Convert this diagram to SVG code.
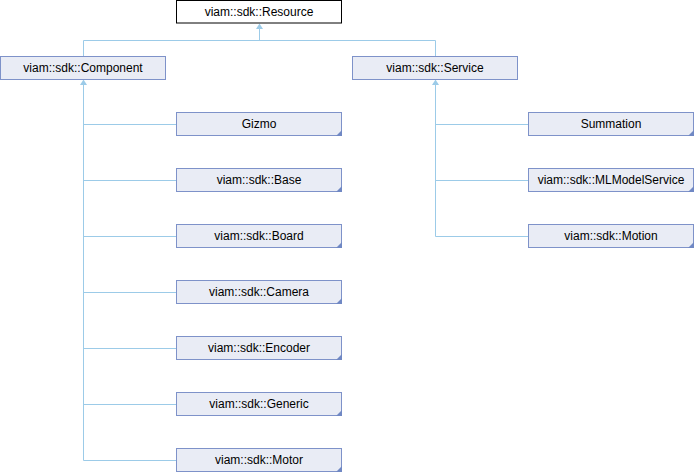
<svg xmlns="http://www.w3.org/2000/svg" width="694" height="472" viewBox="0 0 694 472">
<defs>
<style>
.n rect{fill:#e9ecf5;stroke:#7e92c9;stroke-width:1}
.n path{fill:#7088c4}
.r rect{fill:#ffffff;stroke:#000000;stroke-width:1}
text{font-family:"Liberation Sans",Arial,sans-serif;font-size:12px;fill:#000;text-anchor:middle}
.c line,.c polyline{stroke:#9ccbe8;stroke-width:1;fill:none}
.c path{fill:#9ccbe8;stroke:none}
</style>
</defs>
<rect width="694" height="472" fill="#ffffff"/>
<g class="c" id="connectors">
<line x1="259.5" y1="28" x2="259.5" y2="40.5"/>
<polyline points="83.5,56 83.5,40.5 435.5,40.5 435.5,56"/>
<path d="M259.5,23.5 L263,29 L256,29 Z"/>
<line x1="83.5" y1="84" x2="83.5" y2="460.5"/>
<path d="M83.5,79.5 L87,85 L80,85 Z"/>
<line x1="83.5" y1="124.5" x2="176" y2="124.5"/>
<line x1="83.5" y1="180.5" x2="176" y2="180.5"/>
<line x1="83.5" y1="236.5" x2="176" y2="236.5"/>
<line x1="83.5" y1="292.5" x2="176" y2="292.5"/>
<line x1="83.5" y1="348.5" x2="176" y2="348.5"/>
<line x1="83.5" y1="404.5" x2="176" y2="404.5"/>
<line x1="83.5" y1="460.5" x2="176" y2="460.5"/>
<line x1="435.5" y1="84" x2="435.5" y2="236.5"/>
<path d="M435.5,79.5 L439,85 L432,85 Z"/>
<line x1="435.5" y1="124.5" x2="528" y2="124.5"/>
<line x1="435.5" y1="180.5" x2="528" y2="180.5"/>
<line x1="435.5" y1="236.5" x2="528" y2="236.5"/>
</g>
<g class="r" id="resource"><rect x="176.5" y="0.5" width="165" height="22.5"/><text x="259" y="16">viam::sdk::Resource</text></g>
<g class="n" id="component"><rect x="0.5" y="56.5" width="165" height="23"/><text x="83" y="72">viam::sdk::Component</text></g>
<g class="n" id="service"><rect x="352.5" y="56.5" width="165" height="23"/><text x="435" y="72">viam::sdk::Service</text></g>
<g class="n" id="gizmo"><rect x="176.5" y="112.5" width="165" height="23"/><path d="M342,130 L342,136 L336,136 Z"/><text x="259" y="128">Gizmo</text></g>
<g class="n" id="base"><rect x="176.5" y="168.5" width="165" height="23"/><path d="M342,186 L342,192 L336,192 Z"/><text x="259" y="184">viam::sdk::Base</text></g>
<g class="n" id="board"><rect x="176.5" y="224.5" width="165" height="23"/><path d="M342,242 L342,248 L336,248 Z"/><text x="259" y="240">viam::sdk::Board</text></g>
<g class="n" id="camera"><rect x="176.5" y="280.5" width="165" height="23"/><path d="M342,298 L342,304 L336,304 Z"/><text x="259" y="296">viam::sdk::Camera</text></g>
<g class="n" id="encoder"><rect x="176.5" y="336.5" width="165" height="23"/><path d="M342,354 L342,360 L336,360 Z"/><text x="259" y="352">viam::sdk::Encoder</text></g>
<g class="n" id="generic"><rect x="176.5" y="392.5" width="165" height="23"/><path d="M342,410 L342,416 L336,416 Z"/><text x="259" y="408">viam::sdk::Generic</text></g>
<g class="n" id="motor"><rect x="176.5" y="448.5" width="165" height="23"/><path d="M342,466 L342,472 L336,472 Z"/><text x="259" y="464">viam::sdk::Motor</text></g>
<g class="n" id="summation"><rect x="528.5" y="112.5" width="165" height="23"/><path d="M694,130 L694,136 L688,136 Z"/><text x="611" y="128">Summation</text></g>
<g class="n" id="mlmodelservice"><rect x="528.5" y="168.5" width="165" height="23"/><path d="M694,186 L694,192 L688,192 Z"/><text x="611" y="184">viam::sdk::MLModelService</text></g>
<g class="n" id="motion"><rect x="528.5" y="224.5" width="165" height="23"/><path d="M694,242 L694,248 L688,248 Z"/><text x="611" y="240">viam::sdk::Motion</text></g>
</svg>
